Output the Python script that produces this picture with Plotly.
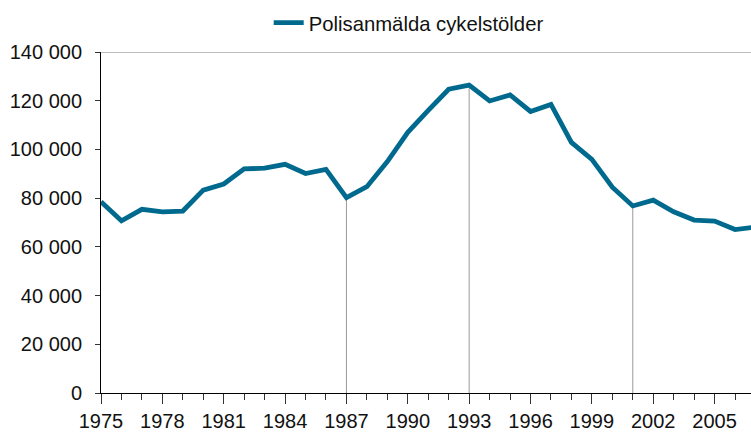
import plotly.graph_objects as go

years = list(range(1975, 2008))
thefts = [78500, 70700, 75400, 74400, 74700, 83300, 85800, 92000, 92300, 93900,
          90100, 91800, 80200, 84700, 95000, 107000, 116000, 124700, 126400, 119900,
          122400, 115600, 118500, 102900, 95900, 84500, 76800, 79200, 74400, 71000,
          70600, 67100, 68100]
series_name = "Polisanmälda cykelstölder"
drop_years = [1987, 1993, 2001]
y_tickvals = [0, 20000, 40000, 60000, 80000, 100000, 120000, 140000]
y_ticktext = ["0", "20 000", "40 000", "60 000", "80 000", "100 000", "120 000", "140 000"]
x_tickvals = list(range(1975, 2008, 3))

LINE_COLOR = "#006a8e"
FONT = "Liberation Sans, Arial, sans-serif"

fig = go.Figure()

for yr in drop_years:
    v = thefts[years.index(yr)]
    fig.add_trace(go.Scatter(x=[yr, yr], y=[0, v], mode="lines",
                             line=dict(color="#9a9a9a", width=1),
                             showlegend=False, hoverinfo="skip"))

fig.add_trace(go.Scatter(x=years, y=thefts, mode="lines", name=series_name,
                         line=dict(color=LINE_COLOR, width=4.8)))

fig.add_shape(type="line", xref="paper", yref="y", x0=0, x1=1, y0=140000, y1=140000,
              line=dict(color="#a8a8a8", width=1.3), layer="below")

fig.update_layout(
    width=751, height=432,
    margin=dict(l=101, r=0, t=52, b=39, autoexpand=False),
    paper_bgcolor="white", plot_bgcolor="white",
    font=dict(family=FONT, size=20, color="#111111"),
    showlegend=True,
    legend=dict(orientation="h", x=0.258, xanchor="left", y=1.085, yanchor="middle",
                font=dict(size=20.3), bgcolor="rgba(0,0,0,0)"),
)

fig.update_xaxes(
    range=[1975, 2006.78], showgrid=False, zeroline=False, automargin=False,
    showline=True, linecolor="black", linewidth=1,
    tickmode="array", tickvals=x_tickvals, ticktext=[str(v) for v in x_tickvals],
    ticks="outside", ticklen=10, tickcolor="#333333", tickwidth=1,
    minor=dict(dtick=1, tick0=1975, ticks="outside", ticklen=6, tickcolor="#333333", tickwidth=1),
    tickfont=dict(size=20),
)
fig.update_yaxes(
    range=[0, 140000], showgrid=False, zeroline=False, automargin=False,
    showline=True, linecolor="black", linewidth=1,
    tickmode="array", tickvals=y_tickvals, ticktext=y_ticktext,
    ticks="outside", ticklen=5, tickcolor="#333333", tickwidth=1,
    tickfont=dict(size=20), ticklabelstandoff=9,
)

fig.write_html("out.html", config={"displayModeBar": False},
               post_script="document.body.style.margin='0';document.body.style.overflow='hidden';")
